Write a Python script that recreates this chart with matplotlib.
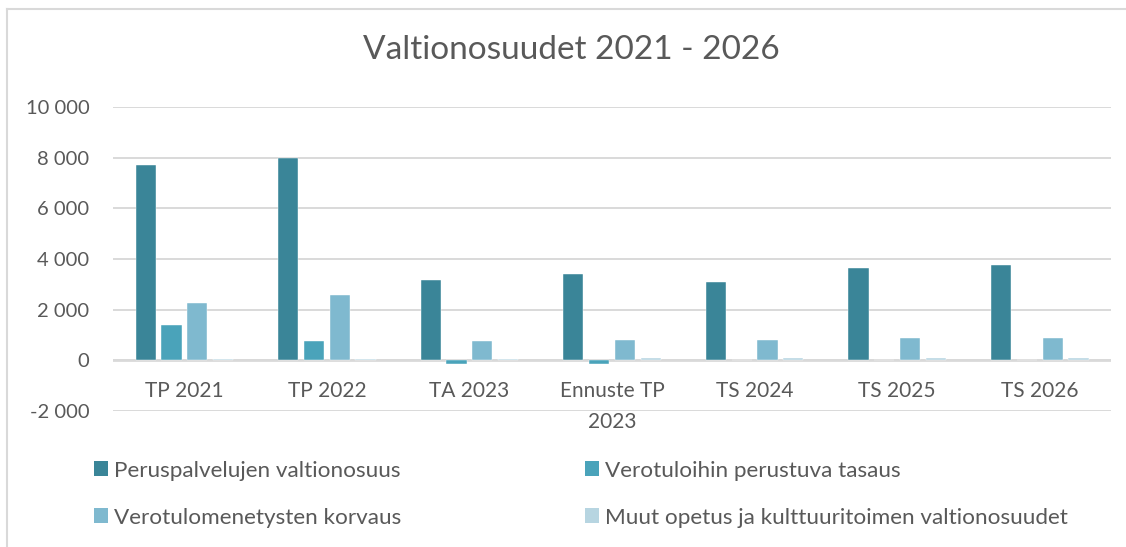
import numpy as np
import matplotlib.pyplot as plt
from matplotlib.patches import Patch
from matplotlib.lines import Line2D
from matplotlib.ticker import FuncFormatter

plt.rcParams['font.family'] = ['Lato', 'DejaVu Sans']

# ---------------- data ----------------
categories = ["TP 2021", "TP 2022", "TA 2023", "Ennuste TP\n2023",
              "TS 2024", "TS 2025", "TS 2026"]
series_names = ["Peruspalvelujen valtionosuus",
                "Verotuloihin perustuva tasaus",
                "Verotulomenetysten korvaus",
                "Muut opetus ja kulttuuritoimen valtionosuudet"]
peruspalvelut = [7720, 7990, 3190, 3390, 3100, 3630, 3760]
tasaus = [1400, 760, -150, -150, 0, 0, 0]
korvaus = [2280, 2570, 750, 800, 810, 870, 895]
muut = [50, 50, 40, 90, 100, 100, 100]
yticks = [-2000, 0, 2000, 4000, 6000, 8000, 10000]

colors = ["#3A8598", "#4AA3BA", "#7FB9CF", "#B7D5E1"]
text_col = "#595959"
grid_col = "#D9D9D9"

# ---------------- figure ----------------
fig = plt.figure(figsize=(11.26, 5.47), dpi=100)
ax = fig.add_axes([0.1004, 0.2486, 0.8863, 0.5558])

x = np.arange(len(categories))
step = 0.181
width = 0.142
all_series = [peruspalvelut, tasaus, korvaus, muut]
for i, vals in enumerate(all_series):
    ax.bar(x + (i - 1.5) * step, vals, width, color=colors[i],
           edgecolor="white", linewidth=0.3, zorder=3)

ax.set_xlim(-0.5, len(categories) - 0.5)
ax.set_ylim(-2000, 10000)
ax.set_yticks(yticks)
ax.yaxis.set_major_formatter(FuncFormatter(lambda v, p: f"{int(v):,}".replace(",", " ")))
ax.tick_params(axis="y", length=0, pad=17, labelsize=14.5, labelcolor=text_col)
ax.set_xticks([])
ax.grid(axis="y", color=grid_col, linewidth=1.4, zorder=0)
ax.axhline(0, color=grid_col, linewidth=2, zorder=2)
for s in ax.spines.values():
    s.set_visible(False)

# category labels just under the zero line
for i, lab in enumerate(categories):
    ax.annotate(lab, xy=(i, 0), xytext=(0, -15), textcoords="offset points",
                ha="center", va="top", fontsize=15, color=text_col,
                linespacing=1.7)

fig.text(0.507, 0.9086, "Valtionosuudet 2021 - 2026", ha="center", va="center",
         fontsize=24, color=text_col)

# legend (column-wise fill -> reorder to match rows)
handles = [Patch(facecolor=c) for c in colors]
order = [0, 2, 1, 3]
fig.legend([handles[k] for k in order], [series_names[k] for k in order],
           ncol=2, loc="upper left", bbox_to_anchor=(0.0835, 0.158),
           frameon=False, fontsize=16.2, labelcolor=text_col,
           borderpad=0, borderaxespad=0,
           handlelength=0.62, handleheight=0.62, handletextpad=0.25,
           columnspacing=8.2, labelspacing=1.2)

# outer chart frame (cut off at right and bottom)
fig.add_artist(Line2D([7 / 1126, 1.0], [1 - 9 / 547, 1 - 9 / 547],
                      color=grid_col, linewidth=1.5, transform=fig.transFigure))
fig.add_artist(Line2D([7 / 1126, 7 / 1126], [0.0, 1 - 9 / 547],
                      color=grid_col, linewidth=1.5, transform=fig.transFigure))

fig.savefig("out.png", dpi=100)
